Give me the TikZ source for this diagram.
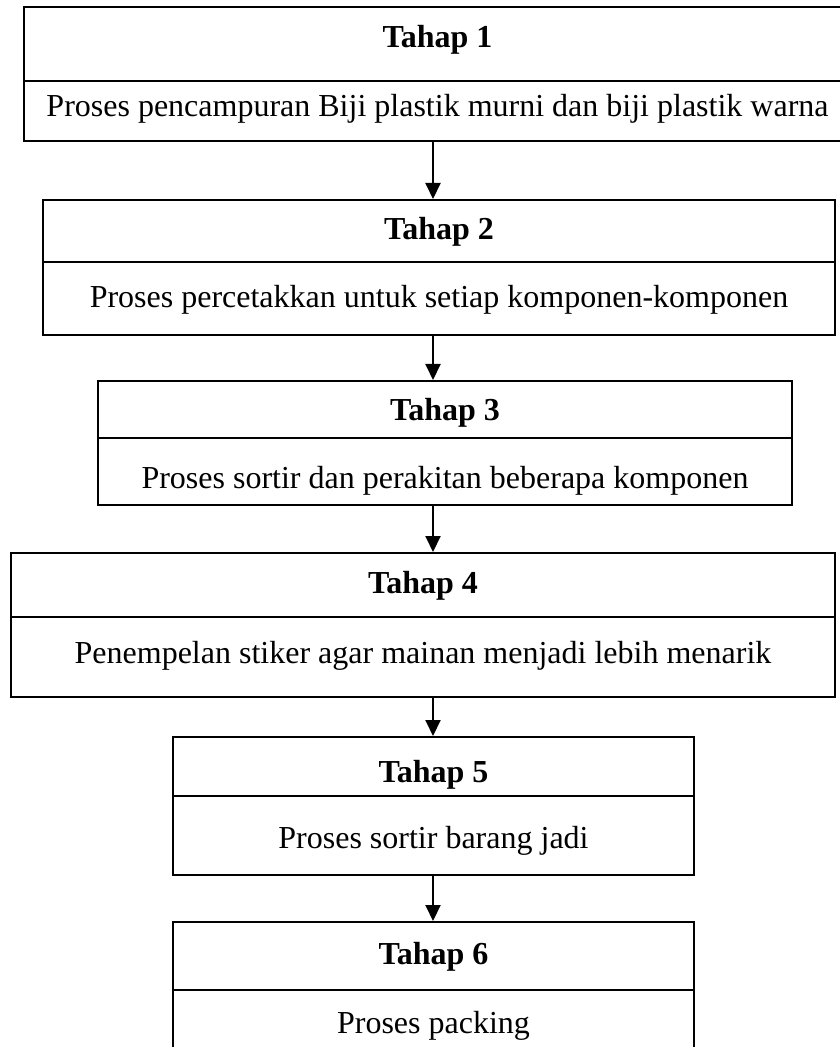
\documentclass[tikz,border=0pt]{standalone}
\usepackage{fontspec}
\setmainfont{Liberation Serif}
\usetikzlibrary{arrows.meta,fit}
\definecolor{tpInk}{HTML}{000000}
\tikzset{
  tp frame/.style={draw=tpInk, line width=1pt, inner sep=0pt},
  tp title/.style={anchor=base, inner sep=0pt, text=tpInk,
    font=\fontsize{16}{19}\selectfont\bfseries},
  tp text/.style={anchor=base, inner sep=0pt, text=tpInk,
    font=\fontsize{16}{19}\selectfont},
  tp arrow/.style={
    draw=tpInk,
    line width=1pt,
    -{Triangle[length=8pt,width=7.5pt]}
  }
}

\begin{document}
\begin{tikzpicture}[x=.5pt,y=-.5pt]
  \useasboundingbox (0,0) rectangle (839,1047);
  \coordinate (spine) at (433,0);

  % Tahap 1
  \node[tp frame, fit={(24,7) (851,81)}] (head1) {};
  \node[tp frame, fit={(24,81) (851,141)}] (body1) {};
  \node[tp title] (title1) at (437.5,48) {Tahap 1};
  \node[tp text] (desc1) at (437.5,117) {Proses pencampuran Biji plastik murni dan biji plastik warna};

  % Tahap 2
  \node[tp frame, fit={(43,200) (835,262)}] (head2) {};
  \node[tp frame, fit={(43,262) (835,335)}] (body2) {};
  \node[tp title] (title2) at (439,240) {Tahap 2};
  \node[tp text] (desc2) at (439,308) {Proses percetakkan untuk setiap komponen-komponen};

  % Tahap 3
  \node[tp frame, fit={(98,381) (792,438)}] (head3) {};
  \node[tp frame, fit={(98,438) (792,505)}] (body3) {};
  \node[tp title] (title3) at (445,420) {Tahap 3};
  \node[tp text] (desc3) at (445,488) {Proses sortir dan perakitan beberapa komponen};

  % Tahap 4
  \node[tp frame, fit={(11,553) (835,617)}] (head4) {};
  \node[tp frame, fit={(11,617) (835,697)}] (body4) {};
  \node[tp title] (title4) at (423,593) {Tahap 4};
  \node[tp text] (desc4) at (423,663) {Penempelan stiker agar mainan menjadi lebih menarik};

  % Tahap 5
  \node[tp frame, fit={(173,737) (694,796)}] (head5) {};
  \node[tp frame, fit={(173,796) (694,875)}] (body5) {};
  \node[tp title] (title5) at (433.5,782) {Tahap 5};
  \node[tp text] (desc5) at (433.5,848) {Proses sortir barang jadi};

  % Tahap 6
  \node[tp frame, fit={(173,922) (694,990)}] (head6) {};
  \node[tp frame, fit={(173,990) (694,1056)}] (body6) {};
  \node[tp title] (title6) at (433.5,964) {Tahap 6};
  \node[tp text] (desc6) at (433.5,1033) {Proses packing};

  \draw[tp arrow] (body1.south -| spine) -- (head2.north -| spine);
  \draw[tp arrow] (body2.south -| spine) -- (head3.north -| spine);
  \draw[tp arrow] (body3.south -| spine) -- (head4.north -| spine);
  \draw[tp arrow] (body4.south -| spine) -- (head5.north -| spine);
  \draw[tp arrow] (body5.south -| spine) -- (head6.north -| spine);
\end{tikzpicture}
\end{document}
